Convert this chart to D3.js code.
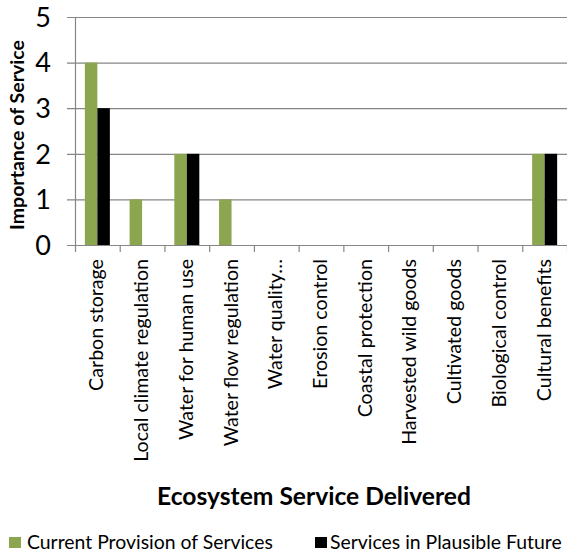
<!DOCTYPE html>
<html><head><meta charset="utf-8">
<script src="https://cdn.jsdelivr.net/npm/d3@7"></script>
<style>body{margin:0;background:#fff}svg{display:block}</style>
</head><body>
<svg id="c" width="567" height="555"></svg>
<script>
const categories = ["Carbon storage","Local climate regulation","Water for human use","Water flow regulation","Water quality\u2026","Erosion control","Coastal protection","Harvested wild goods","Cultivated goods","Biological control","Cultural benefits"];
const currentValues = [4,1,2,1,0,0,0,0,0,0,2];
const futureValues = [3,0,2,0,0,0,0,0,0,0,2];
const seriesNames = ["Current Provision of Services","Services in Plausible Future"];
const yTicks = [0,1,2,3,4,5];
const yTitle = "Importance of Service";
const xTitle = "Ecosystem Service Delivered";

(function () {
const FONT = "Lato, 'Open Sans', sans-serif";
const svg = d3.select("#c");
const pL = 75, pR = 567, pT = 17, pB = 245;
const grid = "#868686";
const colors = ["#8ca650", "#000000"];

const x = d3.scaleBand().domain(categories).range([pL, pR]);
const y = d3.scaleLinear().domain([0,5]).range([pB, pT]);

function fit(sel, target) {
  const w = sel.node().getComputedTextLength();
  const fs = parseFloat(sel.attr("font-size"));
  sel.attr("font-size", fs * target / w);
}

svg.append("g").selectAll("line").data(yTicks).join("line")
  .attr("x1", pL - 8).attr("x2", pR)
  .attr("y1", d => y(d) + 0.5).attr("y2", d => y(d) + 0.5)
  .attr("stroke", grid).attr("stroke-width", 1.2);

svg.append("line").attr("x1", pL + 0.5).attr("x2", pL + 0.5)
  .attr("y1", pT).attr("y2", pB + 0.5).attr("stroke", grid).attr("stroke-width", 1.2);

const bounds = categories.map(c => x(c));
bounds.push(pR);
svg.append("g").selectAll("line").data(bounds).join("line")
  .attr("x1", d => d + 0.5).attr("x2", d => d + 0.5)
  .attr("y1", pB).attr("y2", pB + 7)
  .attr("stroke", grid).attr("stroke-width", 1.2);

const bw = 12.5;
[currentValues, futureValues].forEach((vals, si) => {
  svg.append("g").selectAll("rect").data(categories).join("rect")
    .attr("x", d => x(d) + x.bandwidth()/2 - bw + si*bw)
    .attr("width", bw)
    .attr("y", (d, i) => y(vals[i]))
    .attr("height", (d, i) => y(0) - y(vals[i]))
    .attr("fill", colors[si]);
});

svg.append("g").selectAll("text").data(yTicks).join("text")
  .attr("x", 51).attr("y", d => y(d)).attr("dy", "0.36em")
  .attr("text-anchor", "end").attr("font-family", FONT).attr("font-size", 27)
  .attr("fill", "#000").text(d => d);

const labs = svg.append("g").selectAll("text").data(categories).join("text")
  .attr("transform", d => `translate(${x(d) + x.bandwidth()/2 + 6},259) rotate(-90)`)
  .attr("text-anchor", "end").attr("font-family", FONT).attr("font-size", 16)
  .attr("fill", "#000").text(d => d);
const w0 = labs.filter(d => d === categories[1]).node().getComputedTextLength();
labs.attr("font-size", 16 * 203 / w0);

const yt = svg.append("text")
  .attr("transform", "translate(24,135) rotate(-90)")
  .attr("text-anchor", "middle").attr("font-family", FONT).attr("font-weight", "bold")
  .attr("font-size", 15).attr("fill", "#000").text(yTitle);
fit(yt, 190);

const xt = svg.append("text").attr("x", 314).attr("y", 505)
  .attr("text-anchor", "middle").attr("font-family", FONT).attr("font-weight", "bold")
  .attr("font-size", 20).attr("fill", "#000").text(xTitle);
fit(xt, 314);

const legX = [9, 315], legTextX = [27, 330], legW = [246, 232];
seriesNames.forEach((n, i) => {
  svg.append("rect").attr("x", legX[i]).attr("y", 537).attr("width", 12).attr("height", 11).attr("fill", colors[i]);
  const t = svg.append("text").attr("x", legTextX[i]).attr("y", 549)
    .attr("font-family", FONT).attr("font-size", 16).attr("fill", "#000").text(n);
  fit(t, legW[i]);
});
})();
</script>
</body></html>
